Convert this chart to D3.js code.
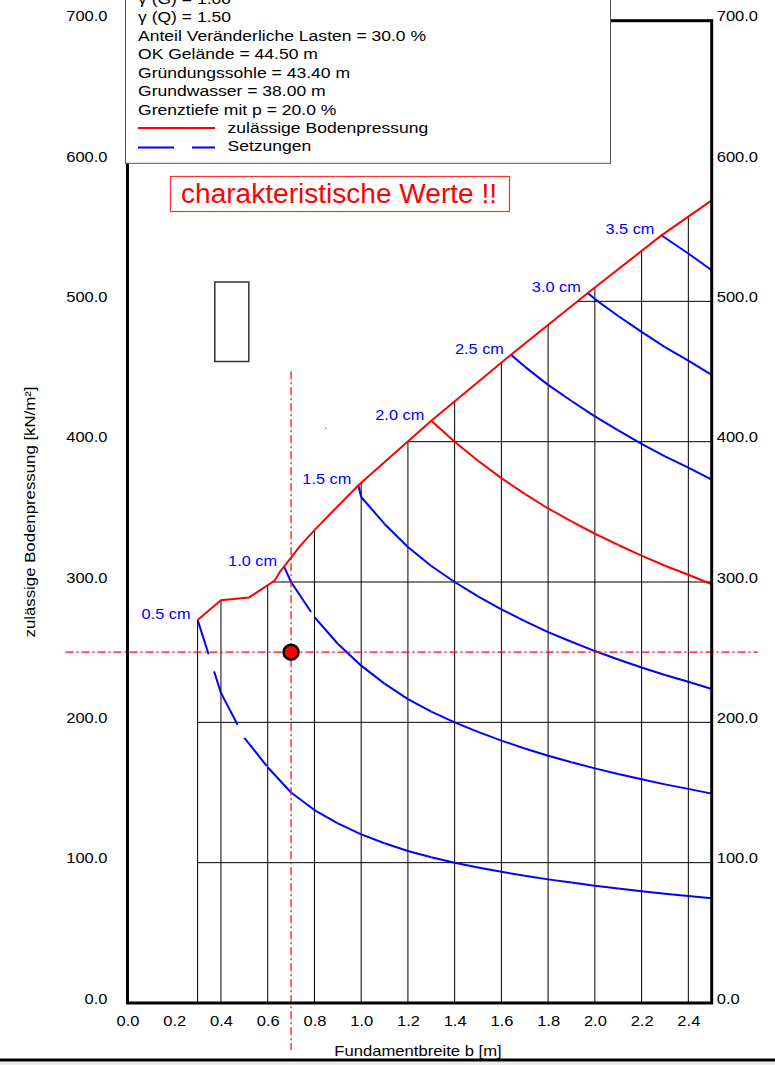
<!DOCTYPE html>
<html>
<head>
<meta charset="utf-8">
<script src="https://cdn.jsdelivr.net/npm/d3@7/dist/d3.min.js"></script>
<style>
  html, body { margin: 0; padding: 0; background: #fff; }
  svg { display: block; }
  text { font-family: "Liberation Sans", Arial, sans-serif; }
</style>
</head>
<body>
<svg id="chart" width="775" height="1065"></svg>
<script>
// ---- data -------------------------------------------------------------
const xTicks = [0.0, 0.2, 0.4, 0.6, 0.8, 1.0, 1.2, 1.4, 1.6, 1.8, 2.0, 2.2, 2.4];
const yTicks = [0, 100, 200, 300, 400, 500, 600, 700];

// allowable bearing pressure (upper envelope) [b m, p kN/m²]
const envelopeB = [0.30, 0.40, 0.52, 0.63, 0.655, 0.67, 0.74, 0.80, 0.988, 1.30, 1.641, 1.97, 2.285, 2.50];
const envelopeP = [273, 287, 289, 301, 308, 311, 326, 337, 369, 415, 462, 506, 547, 572];

// grid cells below the envelope
const gridB = [0.3, 0.4, 0.6, 0.8, 1.0, 1.2, 1.4, 1.6, 1.8, 2.0, 2.2, 2.4];
const gridP = [100, 200, 300, 400, 500];

// settlement curves: start on the envelope, then values on the width grid
const settlementCm = ["0.5 cm", "1.0 cm", "1.5 cm", "2.0 cm", "2.5 cm", "3.0 cm", "3.5 cm"];
const curveStartB = [0.30, 0.67, 0.988, 1.30, 1.641, 1.97, 2.285];
const curveStartP = [273, 311, 369, 415, 462, 506, 547];
const widthGrid = [0.3, 0.4, 0.5, 0.6, 0.7, 0.8, 0.9, 1.0, 1.1, 1.2, 1.3, 1.4, 1.5,
                   1.6, 1.7, 1.8, 1.9, 2.0, 2.1, 2.2, 2.3, 2.4, 2.5];
const s05 = [221, 189, 168, 150, 137.5, 128, 120.2, 113.8, 108.3, 103.8, 100, 96.6, 93.5,
             90.7, 88.1, 85.8, 83.6, 81.6, 79.7, 77.9, 76.3, 74.6];
const s10 = [300, 275, 256, 240.4, 227.6, 216.6, 207.6, 200, 193.2, 187, 181.4, 176.2,
             171.6, 167.2, 163.2, 159.4, 155.8, 152.6, 149.2];
const s15 = [360.6, 341.4, 324.9, 311.4, 300, 289.8, 280.5, 272.1, 264.3, 257.4, 250.8,
             244.8, 239.1, 233.7, 228.9, 223.8];
const s20 = [400, 386.4, 374, 362.8, 352.4, 343.2, 334.4, 326.4, 318.8, 311.6, 305.2, 298.4];
const s25 = [453.5, 440.5, 429, 418, 408, 398.5, 389.5, 381.5, 373];
const s30 = [501.6, 489.6, 478.2, 467.4, 457.8, 447.6];
const s35 = [545.3, 534.1, 522.2];
const settlementValues = [s05, s10, s15, s20, s25, s30, s35];
const curveColors = ["#0000ff", "#0000ff", "#0000ff", "#ff0000", "#0000ff", "#0000ff", "#0000ff"];

// design point
const designB = 0.7;
const designP = 250;

// legend text
const infoLines = [
  "\u03b3 (G) = 1.00",
  "\u03b3 (Q) = 1.50",
  "Anteil Ver\u00e4nderliche Lasten = 30.0 %",
  "OK Gel\u00e4nde = 44.50 m",
  "Gr\u00fcndungssohle = 43.40 m",
  "Grundwasser = 38.00 m",
  "Grenztiefe mit p = 20.0 %"
];
const legendItems = ["zul\u00e4ssige Bodenpressung", "Setzungen"];

// ---- scales -----------------------------------------------------------
const svg = d3.select("#chart");
const x = d3.scaleLinear().domain([0, 2.5]).range([127.5, 711.7]);
const y = d3.scaleLinear().domain([0, 700]).range([1003, 20.7]);
const line = d3.line().x(d => x(d[0])).y(d => y(d[1]));

const envPts = envelopeB.map((b, i) => [b, envelopeP[i]]);
function envAt(b) {
  for (let i = 0; i < envPts.length - 1; i++) {
    const [b0, p0] = envPts[i], [b1, p1] = envPts[i + 1];
    if (b >= b0 && b <= b1) return p0 + (p1 - p0) * (b - b0) / (b1 - b0);
  }
  return envPts[envPts.length - 1][1];
}
function envInverse(p) {
  for (let i = 0; i < envPts.length - 1; i++) {
    const [b0, p0] = envPts[i], [b1, p1] = envPts[i + 1];
    if (p >= p0 && p <= p1) return b0 + (b1 - b0) * (p - p0) / (p1 - p0);
  }
  return envPts[0][0];
}

// text helper: position + horizontal stretch
function label(g, px, py, str, o) {
  return g.append("text")
    .attr("transform", `translate(${px},${py}) scale(${o.sx || 1},1)`)
    .attr("text-anchor", o.anchor || "start")
    .style("font-size", o.size + "px")
    .attr("fill", o.fill || "#000")
    .text(str);
}

// ---- grid -------------------------------------------------------------
const grid = svg.append("g").attr("stroke", "#000").attr("stroke-width", 1);
gridB.forEach(b => {
  grid.append("line").attr("x1", x(b)).attr("x2", x(b)).attr("y1", y(0)).attr("y2", y(envAt(b)));
});
gridP.forEach(p => {
  const b0 = Math.max(0.3, envInverse(p));
  grid.append("line").attr("x1", x(b0)).attr("x2", x(2.5)).attr("y1", y(p)).attr("y2", y(p));
});

// ---- settlement curves (dash pattern restarts on every segment) -------
const curves = svg.append("g").attr("fill", "none").attr("stroke-width", 2);
settlementValues.forEach((vals, k) => {
  const b0 = curveStartB[k];
  const after = widthGrid.filter(b => b > b0 + 1e-6);
  const pts = [[b0, curveStartP[k]]].concat(after.map((b, i) => [b, vals[i]]));
  for (let i = 0; i < pts.length - 1; i++) {
    curves.append("path")
      .attr("d", line([pts[i], pts[i + 1]]))
      .attr("stroke", curveColors[k])
      .attr("stroke-dasharray", "36,18");
  }
});

// ---- allowable pressure envelope --------------------------------------
svg.append("path").attr("d", line(envPts))
  .attr("fill", "none").attr("stroke", "#ff0000").attr("stroke-width", 2);

// curve labels
const lab = svg.append("g");
settlementCm.forEach((t, k) => {
  label(lab, x(curveStartB[k]) - 7, y(curveStartP[k]) - 1, t, { size: 15, sx: 1.09, anchor: "end", fill: "#0000ff" });
});

// ---- design point crosshair -------------------------------------------
const cross = svg.append("g").attr("stroke", "#ff0000").attr("stroke-width", 1.2)
  .attr("stroke-dasharray", "8,3,2,3");
cross.append("line").attr("x1", x.range()[0] - 62).attr("x2", x.range()[1] + 46)
  .attr("y1", y(designP)).attr("y2", y(designP));
cross.append("line").attr("x1", x(designB)).attr("x2", x(designB))
  .attr("y1", y(designP) - 281).attr("y2", y(0) + 47);
svg.append("circle").attr("cx", x(designB)).attr("cy", y(designP)).attr("r", 7.5)
  .attr("fill", "#ff0000").attr("stroke", "#000").attr("stroke-width", 2.5);

// ---- frame ------------------------------------------------------------
svg.append("rect")
  .attr("x", x(0)).attr("y", y(700))
  .attr("width", x(2.5) - x(0)).attr("height", y(0) - y(700))
  .attr("fill", "none").attr("stroke", "#000").attr("stroke-width", 3);

// ---- axes -------------------------------------------------------------
const fmt = d3.format(".1f");
function styleAxis(g, tf) {
  g.select(".domain").remove();
  g.selectAll(".tick line").remove();
  g.selectAll(".tick text")
    .attr("x", null).attr("y", null).attr("dy", null)
    .attr("transform", tf)
    .attr("fill", "#000")
    .style("font-size", "14px")
    .style("font-family", "'Liberation Sans', Arial, sans-serif");
}
svg.append("g").attr("transform", `translate(${x(0)},0)`)
  .call(d3.axisLeft(y).tickValues(yTicks).tickFormat(fmt).tickSize(0))
  .call(g => styleAxis(g, "translate(-20,0) scale(1.18,1)"))
  .selectAll(".tick text").attr("text-anchor", "end");
svg.append("g").attr("transform", `translate(${x(2.5)},0)`)
  .call(d3.axisRight(y).tickValues(yTicks).tickFormat(fmt).tickSize(0))
  .call(g => styleAxis(g, "translate(5,0) scale(1.18,1)"))
  .selectAll(".tick text").attr("text-anchor", "start");
svg.append("g").attr("transform", `translate(0,${y(0)})`)
  .call(d3.axisBottom(x).tickValues(xTicks).tickFormat(fmt).tickSize(0))
  .call(g => styleAxis(g, "translate(0,23) scale(1.18,1)"))
  .selectAll(".tick text").attr("text-anchor", "middle");

// axis titles
label(svg, 418, 1056, "Fundamentbreite b [m]", { size: 14, sx: 1.19, anchor: "middle" });
svg.append("text")
  .attr("transform", "translate(35,512) rotate(-90) scale(1.2,1)")
  .attr("text-anchor", "middle").style("font-size", "14px").attr("fill", "#000")
  .text("zul\u00e4ssige Bodenpressung [kN/m\u00b2]");

// bottom rule
svg.append("rect").attr("x", 0).attr("y", 1061.5).attr("width", 775).attr("height", 3.5).attr("fill", "#ececec");
svg.append("line").attr("x1", 0).attr("x2", 775).attr("y1", 1060).attr("y2", 1060)
  .attr("stroke", "#000").attr("stroke-width", 3);

// ---- info / legend box ------------------------------------------------
const lg = svg.append("g");
lg.append("rect").attr("x", 125.5).attr("y", -30).attr("width", 485).attr("height", 193.3)
  .attr("fill", "#fff").attr("stroke", "#555").attr("stroke-width", 1);
const lineH = 18.45;
infoLines.forEach((t, i) => {
  label(lg, 138, 3.85 + lineH * i, t, { size: 15, sx: 1.17 });
});
const legY0 = 3.85 + lineH * infoLines.length;
lg.append("line").attr("x1", 138).attr("x2", 215).attr("y1", legY0 - 5).attr("y2", legY0 - 5)
  .attr("stroke", "#ff0000").attr("stroke-width", 2);
lg.append("line").attr("x1", 138).attr("x2", 215).attr("y1", legY0 + lineH - 4).attr("y2", legY0 + lineH - 4)
  .attr("stroke", "#0000ff").attr("stroke-width", 2).attr("stroke-dasharray", "36,18");
legendItems.forEach((t, i) => {
  label(lg, 227.5, legY0 + lineH * i, t, { size: 15, sx: 1.17 });
});

// banner
svg.append("rect").attr("x", 170.5).attr("y", 176.5).attr("width", 339).attr("height", 35)
  .attr("fill", "#fff").attr("stroke", "#ff3030").attr("stroke-width", 1.2);
label(svg, 181, 202.7, "charakteristische Werte !!", { size: 27, sx: 1.04, fill: "#ff0000" });

// foundation symbol
svg.append("rect").attr("x", 214.8).attr("y", 282).attr("width", 34).attr("height", 79.5)
  .attr("fill", "none").attr("stroke", "#333").attr("stroke-width", 1.5);
svg.append("circle").attr("cx", 325.7).attr("cy", 428.3).attr("r", 0.8).attr("fill", "#666");
</script>
</body>
</html>
